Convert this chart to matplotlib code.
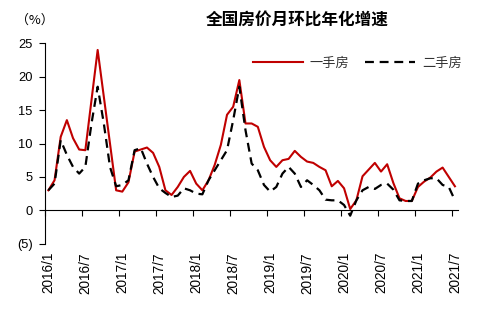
import matplotlib
matplotlib.use('Agg')
import matplotlib.pyplot as plt
import numpy as np

plt.rcParams['font.family'] = ['Liberation Sans', 'Noto Sans CJK SC', 'DejaVu Sans']

# 数据: 2016/1 - 2021/7 月度, 单位 %
new_home = [3.0, 4.5, 11.0, 13.5, 10.8, 9.1, 9.0, 16.5, 24.0, 17.0,
            10.0, 3.0, 2.8, 4.2, 8.8, 9.1, 9.4, 8.6, 6.5, 3.0,
            2.3, 3.5, 5.0, 5.9, 4.0, 3.0, 4.5, 6.8, 9.8, 14.3,
            15.5, 19.5, 13.0, 13.0, 12.5, 9.5, 7.5, 6.5, 7.5, 7.7,
            8.9, 8.0, 7.3, 7.1, 6.5, 6.0, 3.6, 4.4, 3.3, 0.2,
            1.5, 5.1, 6.1, 7.1, 5.8, 6.9, 4.1, 1.8, 1.4, 1.4,
            3.5, 4.3, 4.9, 5.8, 6.4, 5.0, 3.6]
second_home = [3.0, 4.0, 10.5, 8.3, 6.5, 5.5, 6.5, 13.0, 18.5, 13.0,
               6.5, 3.6, 3.8, 4.5, 9.0, 9.3, 7.0, 5.0, 3.3, 2.6,
               2.0, 2.2, 3.3, 3.0, 2.5, 2.4, 4.5, 6.0, 7.5, 9.0,
               13.5, 18.5, 12.0, 7.0, 6.0, 3.8, 2.8, 3.5, 5.5, 6.5,
               5.5, 3.5, 4.5, 3.8, 3.0, 1.6, 1.5, 1.5, 0.8, -0.8,
               1.5, 3.0, 3.5, 3.2, 3.8, 4.0, 3.1, 1.5, 1.4, 1.4,
               4.0, 4.5, 4.8, 4.8, 3.8, 3.5, 1.5]
tick_labels = ['2016/1', '2016/7', '2017/1', '2017/7', '2018/1', '2018/7',
               '2019/1', '2019/7', '2020/1', '2020/7', '2021/1', '2021/7']
y_ticks = [-5, 0, 5, 10, 15, 20, 25]
y_labels = ['(5)', '0', '5', '10', '15', '20', '25']

n = len(new_home)
x = np.arange(n) + 0.5

fig = plt.figure(figsize=(4.84, 3.25), dpi=100)
ax = fig.add_axes([0.0936, 0.250, 0.8527, 0.6168])

ax.plot(x, new_home, color='#C00000', lw=1.5, label='一手房')
ax.plot(x, second_home, color='black', lw=1.6, dashes=(4.0, 2.6), label='二手房')

ax.set_xlim(0, n)
ax.set_ylim(-5, 25)
ax.set_yticks(y_ticks)
ax.set_yticklabels(y_labels, fontsize=9.3)
ax.tick_params(axis='y', direction='out', length=4, width=0.8, pad=5)

# x轴在0处
ax.spines['top'].set_visible(False)
ax.spines['right'].set_visible(False)
ax.spines['bottom'].set_position(('data', 0))
ax.spines['bottom'].set_linewidth(0.8)
ax.spines['left'].set_linewidth(0.8)
ax.set_xticks(np.arange(0, n, 6))
ax.tick_params(axis='x', direction='out', length=4, width=0.8, labelbottom=False)

# 标签放在底部
sec = ax.secondary_xaxis(0)
sec.set_xticks(np.arange(0, n, 6) + 0.5)
sec.set_xticklabels(tick_labels, rotation=90, fontsize=9.8)
sec.tick_params(length=0, pad=6)
sec.spines['bottom'].set_visible(False)

fig.text(0.613, 0.938, '全国房价月环比年化增速', ha='center', va='center',
         fontsize=12, fontweight='bold', family='Noto Sans CJK SC')
fig.text(0.072, 0.938, '（%）', ha='center', va='center', fontsize=9.3,
         family=['Noto Sans CJK SC', 'DejaVu Sans'])

leg = fig.legend(loc='center', bbox_to_anchor=(0.738, 0.806), ncol=2, frameon=False,
                 handlelength=3.8, columnspacing=1.2, handletextpad=0.5,
                 prop={'family': 'Noto Sans CJK SC', 'size': 9.5})
for t in leg.get_texts():
    t.set_color('#333333')

fig.savefig('out.png', dpi=100)
